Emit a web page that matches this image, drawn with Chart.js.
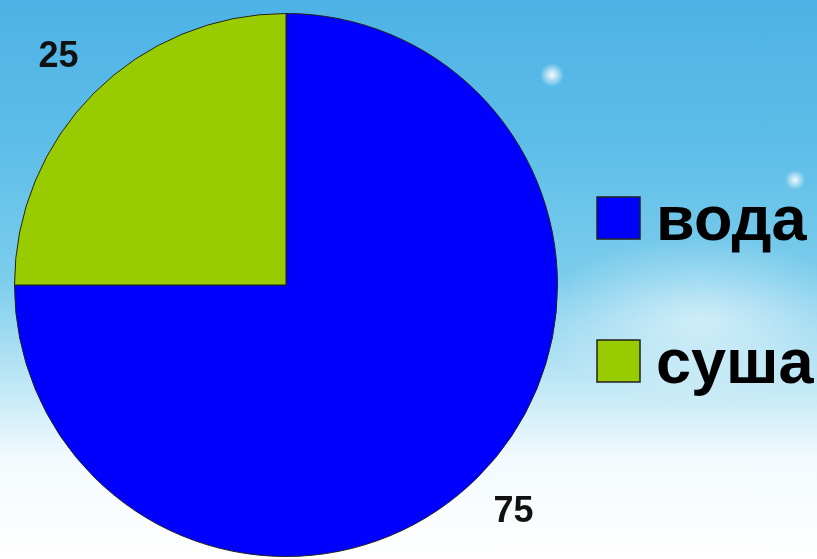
<!DOCTYPE html>
<html lang="ru">
  <head>
    <meta charset="UTF-8" />
    <title>вода и суша</title>
    <style>
      html, body { margin: 0; padding: 0; }
      body {
        width: 817px; height: 559px; overflow: hidden;
        background:
          radial-gradient(ellipse 230px 120px at 700px 320px, rgba(255,255,255,0.55), rgba(255,255,255,0) 70%),
          radial-gradient(circle 12px at 552px 75px, rgba(255,255,255,0.95), rgba(255,255,255,0) 100%),
          radial-gradient(circle 10px at 795px 180px, rgba(255,255,255,0.9), rgba(255,255,255,0) 100%),
          linear-gradient(to bottom, #4db2e5 0%, #5dbde8 25%, #7ccdec 50%, #c4e9f6 70%, #f3fafd 82%, #ffffff 100%);
      }
      #wrap { position: absolute; left: 0; top: 0; width: 817px; height: 559px; }
    </style>
  </head>
  <body>
    <div id="wrap">
      <canvas id="myChart"></canvas>
    </div>
    <script src="https://cdn.jsdelivr.net/npm/chart.js"></script>
    <script>
        const labels = ["вода", "суша"];
        const values = [75, 25];
        const colors = ["#0000ff", "#99cc00"];

        // labels outside each slice + big legend at right
        const pieExtras = {
            id: 'pieExtras',
            afterDraw(chart) {
                const {ctx} = chart;
                const meta = chart.getDatasetMeta(0);
                ctx.save();
                ctx.fillStyle = '#111';
                ctx.font = 'bold 36px "Liberation Sans", Arial, sans-serif';
                ctx.textAlign = 'center';
                ctx.textBaseline = 'middle';
                meta.data.forEach((arc, i) => {
                    const {x, y, startAngle, endAngle, outerRadius} = arc.getProps(['x', 'y', 'startAngle', 'endAngle', 'outerRadius'], true);
                    const mid = (startAngle + endAngle) / 2;
                    const r = outerRadius * 1.185;
                    ctx.fillText(String(values[i]), x + Math.cos(mid) * r, y + Math.sin(mid) * r);
                });

                // legend
                ctx.font = 'bold 63px "Liberation Sans", Arial, sans-serif';
                ctx.textAlign = 'left';
                ctx.textBaseline = 'alphabetic';
                const rows = [240, 383];
                labels.forEach((lab, i) => {
                    const by = rows[i];
                    ctx.fillStyle = colors[i];
                    ctx.fillRect(597, by - 43, 43, 42);
                    ctx.strokeStyle = '#222';
                    ctx.lineWidth = 1.5;
                    ctx.strokeRect(597, by - 43, 43, 42);
                    ctx.fillStyle = '#000';
                    ctx.fillText(lab, 656, by);
                });
                ctx.restore();
            }
        };

        const config = {
            type: "pie",
            data: {
                labels: labels,
                datasets: [{
                    data: values,
                    backgroundColor: colors,
                    borderColor: "#222",
                    borderWidth: 1
                }]
            },
            plugins: [pieExtras],
            options: {
                responsive: true,
                maintainAspectRatio: false,
                animation: false,
                layout: { padding: { left: 14, top: 13, right: 259, bottom: 2 } },
                plugins: {
                    legend: { display: false },
                    tooltip: { enabled: false }
                }
            }
        };

        const myChart = new Chart(document.getElementById("myChart"), config);
    </script>
  </body>
</html>
